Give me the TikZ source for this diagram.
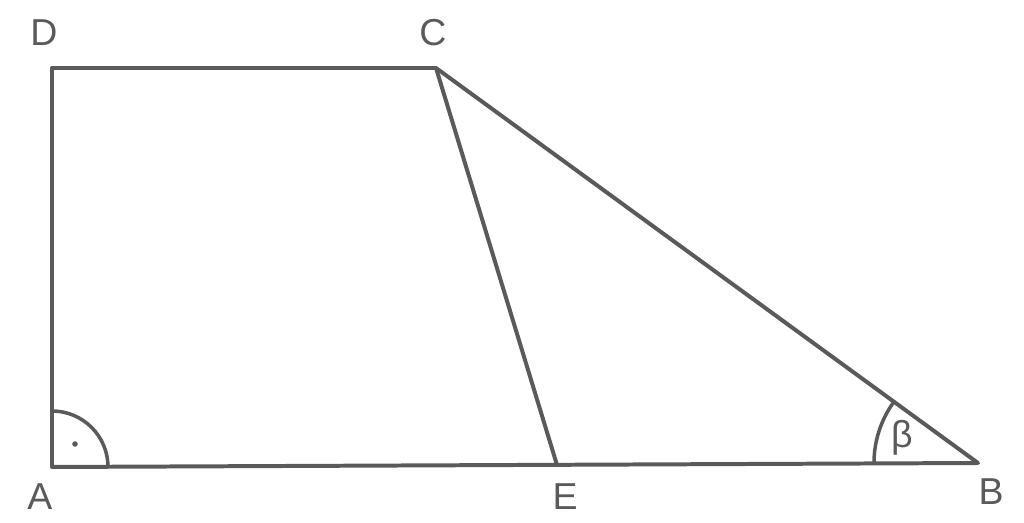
\documentclass[tikz,border=0pt]{standalone}
\usepackage{fontspec}
\setmainfont{Liberation Sans}
\usetikzlibrary{calc}
\definecolor{linegray}{HTML}{5A5A5A}
\tikzset{every node/.style={text=linegray}}

\begin{document}
\begin{tikzpicture}[x=0.03cm, y=0.03cm]
          \tikzstyle{side} = [draw=linegray, line width=3.4pt, line join=round]
          \tikzstyle{angmark} = [draw=linegray, line width=3pt]
          \tikzstyle{vlabel} = [font=\fontsize{32}{36}\selectfont, inner sep=0pt]
          \useasboundingbox (0,0) rectangle (1024,522);

          \coordinate (A) at (52,55);
          \coordinate (B) at (978,59);
          \coordinate (C) at (436,454);
          \coordinate (D) at (52,454);
          \coordinate (E) at (557,57);

          \node[vlabel] (la) at (40,25) {A};
          \node[vlabel] (lb) at (991,30) {B};
          \node[vlabel] (lc) at (433,489) {C};
          \node[vlabel] (ld) at (44,489) {D};
          \node[vlabel] (le) at (565,25) {E};

          % trapezoid and the line from C to E
          \draw[side] (A) -- (B) -- (C) -- (D) -- cycle;
          \draw[side] (C) -- (E);

          % angle marks
          \draw[angmark] ($(A)+(56,0)$) arc[start angle=0, end angle=90, radius=56];
          \fill[linegray] ($(A)+(23,23)$) circle (2.8);
          \draw[angmark] ($(B)+(-104,0)$) arc[start angle=180, end angle=143.9, radius=104];
          \node[vlabel] (beta) at (902,84) {β};
\end{tikzpicture}
\end{document}
